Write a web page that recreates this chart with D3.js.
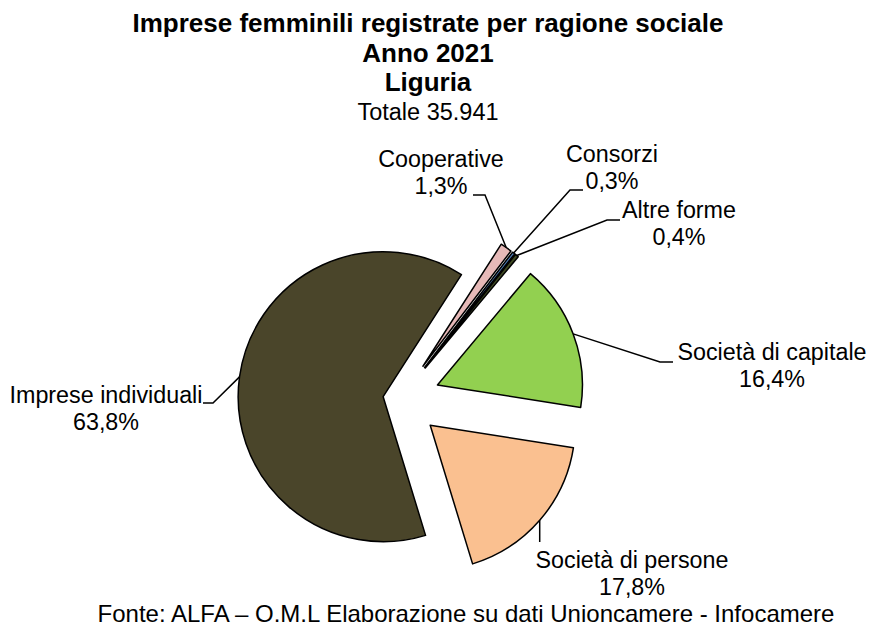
<!DOCTYPE html>
<html>
<head>
<meta charset="utf-8">
<style>
  body { margin: 0; background: #fff; }
  svg { display: block; font-family: "Liberation Sans", Arial, sans-serif; }
</style>
</head>
<body>
<svg width="872" height="625"></svg>
<script src="https://cdn.jsdelivr.net/npm/d3@7"></script>
<script>
// data
const categories = ["Imprese individuali", "Cooperative", "Consorzi", "Altre forme", "Società di capitale", "Società di persone"];
const shares = [63.8, 1.3, 0.3, 0.4, 16.4, 17.8];
const titleLines = ["Imprese femminili registrate per ragione sociale", "Anno 2021", "Liguria"];
const totalLine = "Totale 35.941";
const sourceLine = "Fonte: ALFA – O.M.L Elaborazione su dati Unioncamere - Infocamere";

// styles / layout
const sliceColors = ["#4a452a", "#e6b9b8", "#4f81bd", "#3f4a22", "#92d050", "#fac090"];
const explode = [17, 40, 40, 40, 40, 40];
// text centre x, first baseline y, leader elbow (ex, ey), end of the short horizontal tail (tx)
const labelPos = [
    { x: 106, y: 403, ex: 213, ey: 403, tx: 203 },
    { x: 441, y: 167, ex: 485, ey: 195, tx: 473 },
    { x: 612, y: 162, ex: 570, ey: 190, tx: 583 },
    { x: 679, y: 218, ex: 607, ey: 220, tx: 620 },
    { x: 772, y: 360, ex: 660, ey: 362, tx: 673 },
    { x: 632, y: 568, ex: null, ey: 542, tx: null }
];

const width = 872, height = 625;
const cx = 400, cy = 399, radius = 145;

const svg = d3.select("svg");

// titles
const title = svg.append("g").attr("text-anchor", "middle");
titleLines.forEach((t, i) => {
    title.append("text")
        .attr("x", 428).attr("y", 32 + i * 29.5)
        .style("font-size", "26px").style("font-weight", "bold")
        .text(t);
});
title.append("text")
    .attr("x", 428).attr("y", 120)
    .style("font-size", "23.5px")
    .text(totalLine);

const data = categories.map((c, i) => ({ name: c, value: shares[i], i: i }));

const start = 163 * Math.PI / 180;
const pie = d3.pie().sort(null).value(d => d.value)
    .startAngle(start).endAngle(start + 2 * Math.PI);
const arcs = pie(data);

const arc = d3.arc().innerRadius(0).outerRadius(radius);

const dir = a => [Math.sin(a), -Math.cos(a)];
const mid = d => (d.startAngle + d.endAngle) / 2;

const g = svg.append("g").attr("transform", `translate(${cx},${cy})`);

g.selectAll("path.slice")
    .data(arcs)
    .join("path")
    .attr("class", "slice")
    .attr("transform", d => {
        let v = dir(mid(d)), e = explode[d.data.i];
        return `translate(${v[0] * e},${v[1] * e})`;
    })
    .attr("d", arc)
    .style("fill", d => sliceColors[d.data.i])
    .style("stroke", "#000")
    .style("stroke-width", 1.5)
    .style("stroke-linejoin", "round");

// leader lines + labels
const fmt = v => d3.format(".1f")(v).replace(".", ",") + "%";

arcs.forEach(d => {
    let p = labelPos[d.data.i];
    let v = dir(mid(d));
    let r = radius + explode[d.data.i];
    let sx = cx + v[0] * r, sy = cy + v[1] * r;
    let ex = p.ex == null ? sx : p.ex;
    let pts = [[sx, sy], [ex, p.ey]];
    if (p.tx != null) pts.push([p.tx, p.ey]);
    svg.append("path")
        .attr("d", d3.line()(pts))
        .style("fill", "none")
        .style("stroke", "#000")
        .style("stroke-width", 1.5);

    let t = svg.append("text")
        .attr("text-anchor", "middle")
        .style("font-size", "23.3px");
    t.append("tspan").attr("x", p.x).attr("y", p.y).text(d.data.name);
    t.append("tspan").attr("x", p.x).attr("y", p.y + 27).text(fmt(d.data.value));
});

// source
svg.append("text")
    .attr("x", 466).attr("y", 621.5)
    .attr("text-anchor", "middle")
    .style("font-size", "24px")
    .text(sourceLine);
</script>
</body>
</html>
